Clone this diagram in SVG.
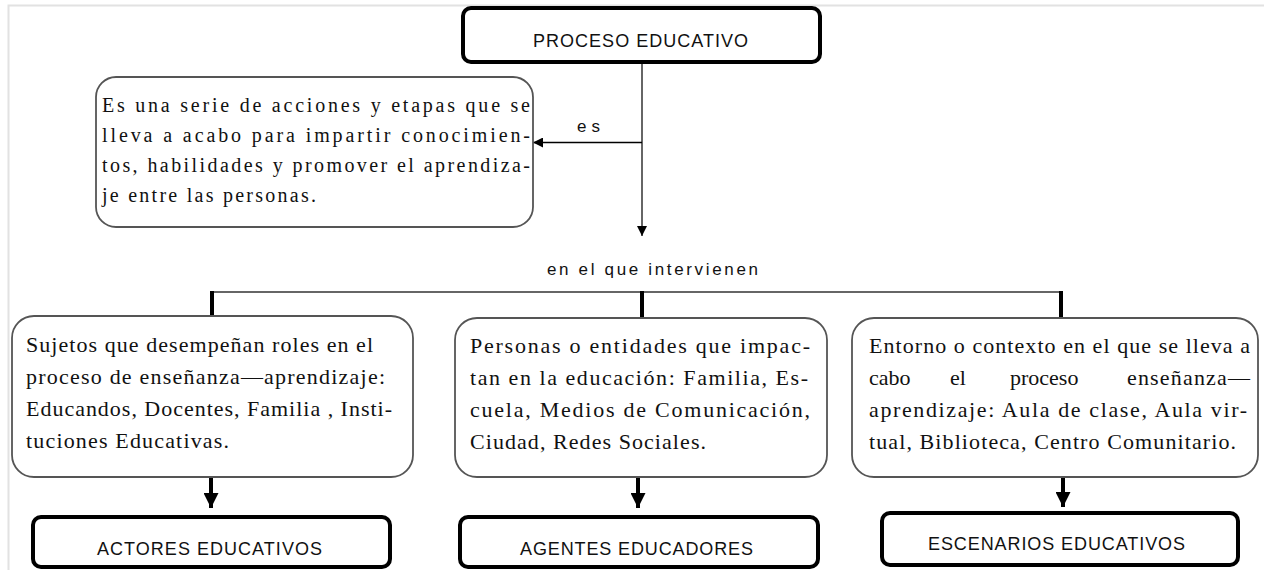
<svg xmlns="http://www.w3.org/2000/svg" width="1264" height="570" viewBox="0 0 1264 570">
<defs>
<marker id="ah" viewBox="0 0 10 10" refX="10" refY="5" markerWidth="12" markerHeight="10" markerUnits="userSpaceOnUse" orient="auto"><path d="M0,0 L10,5 L0,10 z" fill="#000"/></marker>
<marker id="ahb" viewBox="0 0 10 10" refX="10" refY="5" markerWidth="15" markerHeight="15" markerUnits="userSpaceOnUse" orient="auto"><path d="M0,0 L10,5 L0,10 z" fill="#000"/></marker>
</defs>
<style>
.frame{fill:none;stroke:#e2e2e2;stroke-width:2}
.title{fill:#fff;stroke:#000;stroke-width:4}
.desc{fill:#fff;stroke:#555;stroke-width:1.8}
.cap{font-family:"Liberation Sans",Arial,sans-serif;font-size:18px;fill:#111;text-anchor:middle}
.body{font-family:"Liberation Serif","Times New Roman",serif;font-size:22px;fill:#111}
.body.small{font-size:20px}
.lbl{font-family:"Liberation Sans",Arial,sans-serif;font-size:17px;fill:#111}
.thin{fill:none;stroke:#666;stroke-width:2}
.thick{fill:none;stroke:#000;stroke-width:4}
.es{fill:none;stroke:#000;stroke-width:1.5}
</style>
<rect width="1264" height="570" fill="#fff"/>
<path class="frame" d="M8.5,570 V5.5 H1264"/>

<g id="connectors">
<line class="thin" x1="642" y1="62" x2="642" y2="236" marker-end="url(#ah)"/>
<line class="es" x1="642" y1="142.5" x2="533" y2="142.5" marker-end="url(#ah)"/>
<text class="lbl" x="577" y="132" textLength="23" lengthAdjust="spacing">es</text>
<text class="lbl" x="547" y="275" textLength="211" lengthAdjust="spacing">en el que intervienen</text>
<line class="thin" x1="211" y1="292" x2="1062" y2="292"/>
<line class="thick" x1="212" y1="291" x2="212" y2="317"/>
<line class="thick" x1="642" y1="291" x2="642" y2="318"/>
<line class="thick" x1="1061" y1="291" x2="1061" y2="318"/>
<line class="thick" x1="211" y1="477" x2="211" y2="508" marker-end="url(#ahb)"/>
<line class="thick" x1="638" y1="477" x2="638" y2="508" marker-end="url(#ahb)"/>
<line class="thick" x1="1063" y1="477" x2="1063" y2="507" marker-end="url(#ahb)"/>
</g>

<g id="proceso">
<rect class="title" x="463" y="8" width="357" height="54" rx="8"/>
<text class="cap" x="640.5" y="47" textLength="215" lengthAdjust="spacing">PROCESO EDUCATIVO</text>
</g>

<g id="definicion">
<rect class="desc" x="96" y="77" width="437" height="150" rx="20"/>
<text class="body small">
<tspan x="102" y="112" textLength="428" lengthAdjust="spacing">Es una serie de acciones y etapas que se</tspan>
<tspan x="102" y="142" textLength="428" lengthAdjust="spacing">lleva a acabo para impartir conocimien-</tspan>
<tspan x="102" y="172" textLength="428" lengthAdjust="spacing">tos, habilidades y promover el aprendiza-</tspan>
<tspan x="102" y="202" textLength="214" lengthAdjust="spacing">je entre las personas.</tspan>
</text>
</g>

<g id="sujetos">
<rect class="desc" x="12" y="316" width="401" height="161" rx="22"/>
<text class="body">
<tspan x="26" y="352" textLength="347" lengthAdjust="spacing">Sujetos que desempeñan roles en el</tspan>
<tspan x="26" y="384" textLength="359" lengthAdjust="spacing">proceso de enseñanza—aprendizaje:</tspan>
<tspan x="26" y="416" textLength="366" lengthAdjust="spacing">Educandos, Docentes, Familia , Insti-</tspan>
<tspan x="26" y="448" textLength="203" lengthAdjust="spacing">tuciones Educativas.</tspan>
</text>
</g>

<g id="personas">
<rect class="desc" x="455" y="318" width="372" height="159" rx="22"/>
<text class="body">
<tspan x="470" y="353" textLength="340" lengthAdjust="spacing">Personas o entidades que impac-</tspan>
<tspan x="470" y="385" textLength="338" lengthAdjust="spacing">tan en la educación: Familia, Es-</tspan>
<tspan x="470" y="417" textLength="340" lengthAdjust="spacing">cuela, Medios de Comunicación,</tspan>
<tspan x="470" y="449" textLength="236" lengthAdjust="spacing">Ciudad, Redes Sociales.</tspan>
</text>
</g>

<g id="entorno">
<rect class="desc" x="852" y="318" width="406" height="159" rx="22"/>
<text class="body">
<tspan x="869" y="353" textLength="381" lengthAdjust="spacing">Entorno o contexto en el que se lleva a</tspan>
<tspan x="869" y="385">cabo</tspan>
<tspan x="950" y="385">el</tspan>
<tspan x="1010" y="385">proceso</tspan>
<tspan x="1127" y="385" textLength="123" lengthAdjust="spacing">enseñanza—</tspan>
<tspan x="869" y="417" textLength="378" lengthAdjust="spacing">aprendizaje: Aula de clase, Aula vir-</tspan>
<tspan x="869" y="449" textLength="367" lengthAdjust="spacing">tual, Biblioteca, Centro Comunitario.</tspan>
</text>
</g>

<g id="actores">
<rect class="title" x="33" y="517" width="357" height="50" rx="8"/>
<text class="cap" x="209.5" y="555" textLength="225" lengthAdjust="spacing">ACTORES EDUCATIVOS</text>
</g>

<g id="agentes">
<rect class="title" x="460" y="517" width="358" height="50" rx="8"/>
<text class="cap" x="636.5" y="555" textLength="233" lengthAdjust="spacing">AGENTES EDUCADORES</text>
</g>

<g id="escenarios">
<rect class="title" x="882" y="513" width="356" height="52" rx="8"/>
<text class="cap" x="1056.5" y="550" textLength="257" lengthAdjust="spacing">ESCENARIOS EDUCATIVOS</text>
</g>
</svg>
